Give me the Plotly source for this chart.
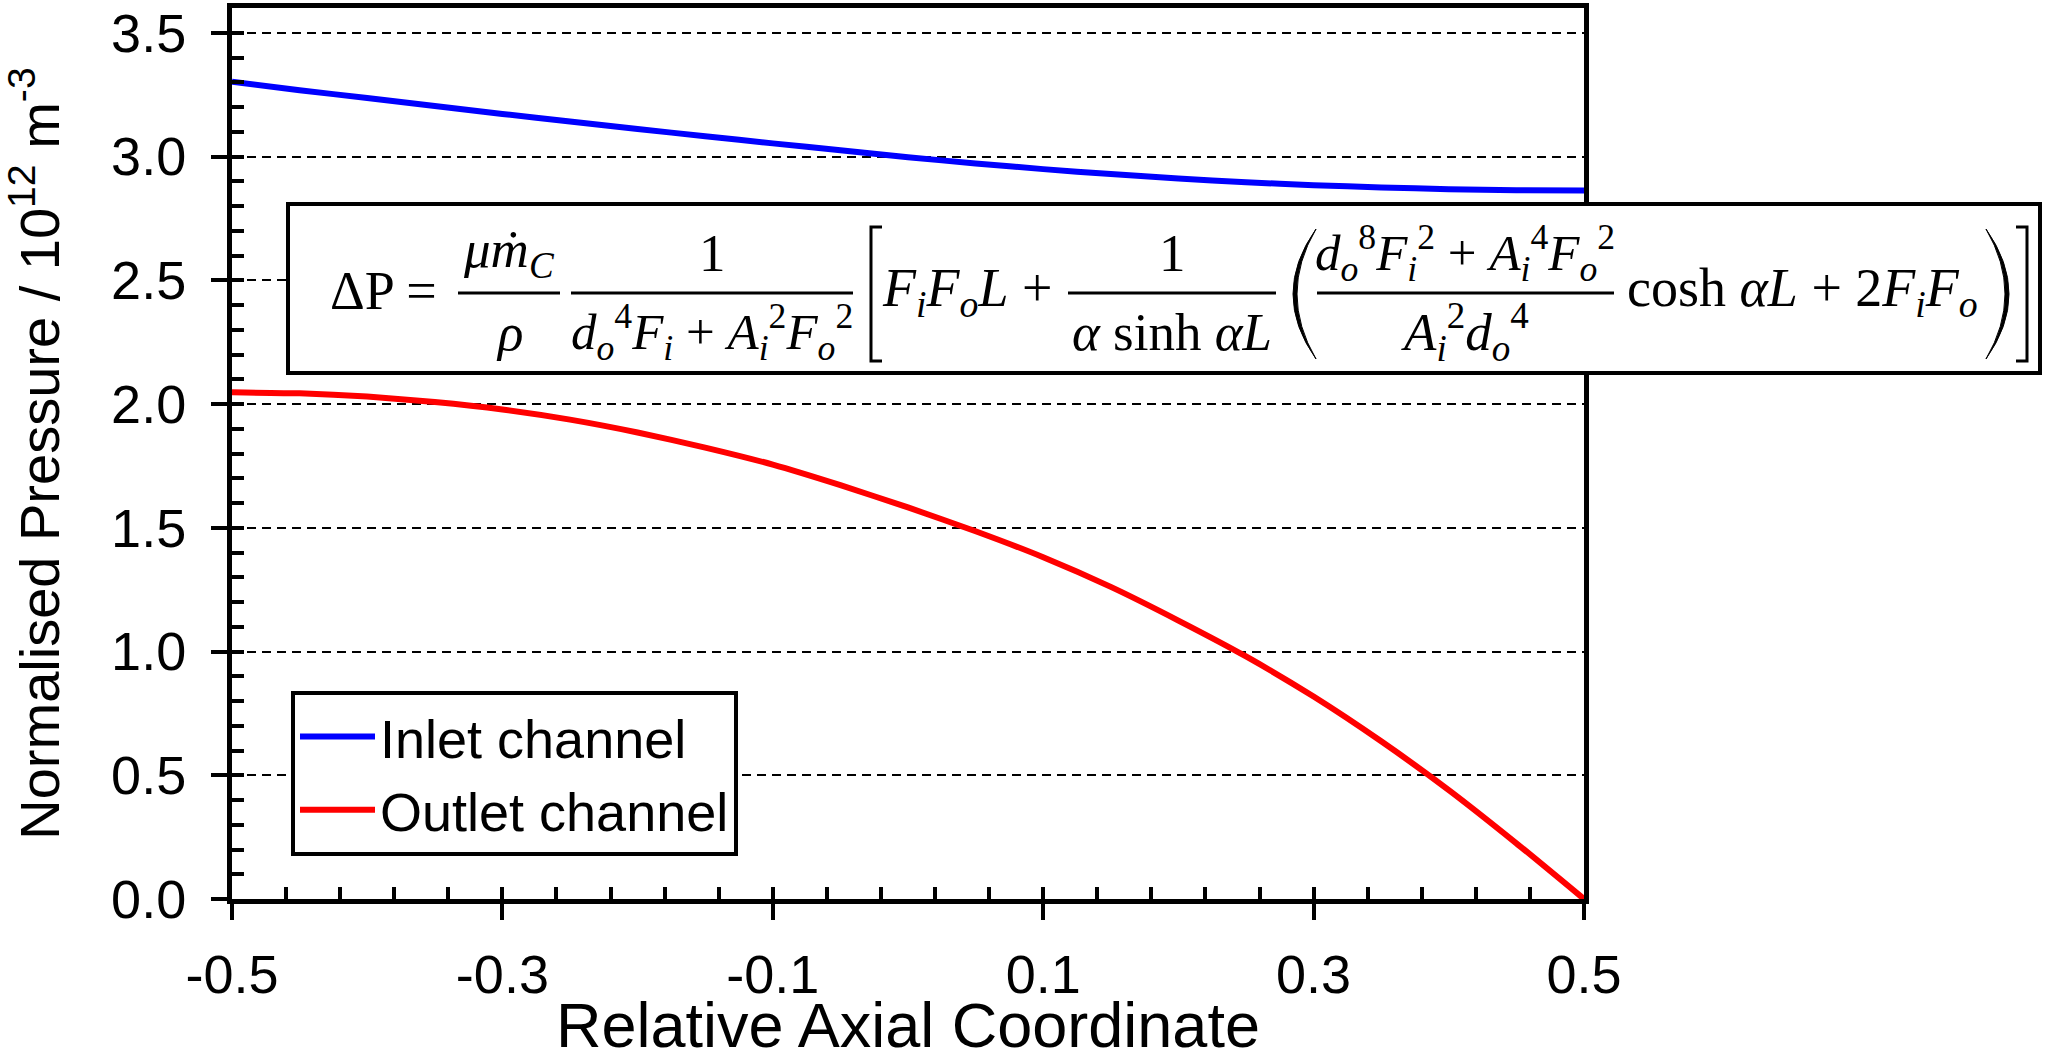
import plotly.graph_objects as go

# ---------------- data ----------------
x_coord = [-0.5, -0.45, -0.4, -0.35, -0.3, -0.25, -0.2, -0.15, -0.1, -0.05, 0.0,
           0.05, 0.1, 0.15, 0.2, 0.25, 0.3, 0.35, 0.4, 0.45, 0.5]
inlet_pressure = [3.302, 3.268, 3.236, 3.204, 3.172, 3.141, 3.111, 3.082, 3.053, 3.025, 2.997,
                  2.972, 2.949, 2.929, 2.911, 2.896, 2.884, 2.875, 2.868, 2.864, 2.863]
outlet_pressure = [2.047, 2.043, 2.030, 2.008, 1.978, 1.937, 1.885, 1.824, 1.755, 1.672, 1.582,
                   1.486, 1.381, 1.261, 1.125, 0.980, 0.818, 0.637, 0.440, 0.225, 0.0]
series_names = ["Inlet channel", "Outlet channel"]
x_ticks = [-0.5, -0.3, -0.1, 0.1, 0.3, 0.5]
x_tick_labels = ["-0.5", "-0.3", "-0.1", "0.1", "0.3", "0.5"]
y_ticks = [0.0, 0.5, 1.0, 1.5, 2.0, 2.5, 3.0, 3.5]
y_tick_labels = ["0.0", "0.5", "1.0", "1.5", "2.0", "2.5", "3.0", "3.5"]

# ---------------- geometry ----------------
W, H = 2071, 1060
ML, MR, MT, MB = 232, 487, 8, 161
PW, PH = W - ML - MR, H - MT - MB


def px(xp):
    return (xp - ML) / PW


def py(yp):
    return (H - MB - yp) / PH


def path(points, close=False):
    s = "M " + " L ".join(f"{px(a):.5f},{py(b):.5f}" for a, b in points)
    return s + (" Z" if close else "")


def qpath(p0, c, p1, c2):
    # filled crescent: outer curve p0->p1 via c, back p1->p0 via c2
    return (f"M {px(p0[0]):.5f},{py(p0[1]):.5f} "
            f"Q {px(c[0]):.5f},{py(c[1]):.5f} {px(p1[0]):.5f},{py(p1[1]):.5f} "
            f"Q {px(c2[0]):.5f},{py(c2[1]):.5f} {px(p0[0]):.5f},{py(p0[1]):.5f} Z")


FONT = "Arial, Liberation Sans, sans-serif"
MATH = "Liberation Serif, Times New Roman, serif"

fig = go.Figure()
fig.add_trace(go.Scatter(x=x_coord, y=inlet_pressure, mode="lines", name=series_names[0],
                         line=dict(color="#0000FF", width=6, shape="spline", smoothing=0.5)))
fig.add_trace(go.Scatter(x=x_coord, y=outlet_pressure, mode="lines", name=series_names[1],
                         line=dict(color="#FF0000", width=6, shape="spline", smoothing=0.5)))
# helper trace for the overlay axes carrying the inside ticks
fig.add_trace(go.Scatter(x=[], y=[], xaxis="x2", yaxis="y2", showlegend=False, hoverinfo="skip"))

axis_common = dict(showline=True, linecolor="black", linewidth=5, mirror=True,
                   zeroline=False, automargin=False,
                   tickfont=dict(size=54, family=FONT, color="black"),
                   ticks="outside", ticklen=16, tickwidth=4, tickcolor="black")

fig.update_layout(
    width=W, height=H,
    margin=dict(l=ML, r=MR, t=MT, b=MB, pad=0, autoexpand=False),
    paper_bgcolor="white", plot_bgcolor="white",
    font=dict(family=FONT, color="black"),
    xaxis=dict(range=[-0.5, 0.5], tickvals=x_ticks, ticktext=x_tick_labels,
               showgrid=False, ticklabelstandoff=8,
               title=dict(text="Relative Axial Coordinate", font=dict(size=63, family=FONT),
                          standoff=15),
               **axis_common),
    yaxis=dict(range=[0, 3.6], tickvals=y_ticks, ticktext=y_tick_labels,
               showgrid=True, gridcolor="black", gridwidth=2, griddash="9px,6px",
               ticklabelstandoff=14,
               title=dict(text="Normalised Pressure / 10<sup>12</sup> m<sup>-3</sup>",
                          font=dict(size=56, family=FONT), standoff=35),
               **axis_common),
    xaxis2=dict(range=[-0.5, 0.5], overlaying="x", anchor="y2", side="bottom",
                showline=False, showgrid=False, zeroline=False, showticklabels=False,
                ticks="inside", dtick=0.04, tick0=-0.5, ticklen=12, tickwidth=4,
                tickcolor="black", automargin=False),
    yaxis2=dict(range=[0, 3.6], overlaying="y", anchor="x2", side="left",
                showline=False, showgrid=False, zeroline=False, showticklabels=False,
                ticks="inside", dtick=0.1, tick0=0, ticklen=12, tickwidth=4,
                tickcolor="black", automargin=False),
    legend=dict(x=px(291), y=py(691), xanchor="left", yanchor="top",
                bgcolor="white", bordercolor="black", borderwidth=4,
                font=dict(size=54, family=FONT, color="black"),
                tracegroupgap=0, itemwidth=75),
    showlegend=True,
)

# ---------------- equation box ----------------
shapes = []
shapes.append(dict(type="rect", xref="paper", yref="paper", layer="above",
                   x0=px(288), x1=px(2040), y0=py(373), y1=py(204),
                   line=dict(color="black", width=4), fillcolor="white"))
BAR_Y = 293
for x0, x1 in [(458, 560), (571, 853), (1068, 1276), (1317, 1614)]:
    shapes.append(dict(type="line", xref="paper", yref="paper", layer="above",
                       x0=px(x0), x1=px(x1), y0=py(BAR_Y), y1=py(BAR_Y),
                       line=dict(color="black", width=3)))
# brackets
shapes.append(dict(type="path", xref="paper", yref="paper", layer="above",
                   path=path([(882, 227), (871, 227), (871, 361), (882, 361)]),
                   line=dict(color="black", width=3)))
shapes.append(dict(type="path", xref="paper", yref="paper", layer="above",
                   path=path([(2016, 227), (2027, 227), (2027, 361), (2016, 361)]),
                   line=dict(color="black", width=3)))
# parentheses
shapes.append(dict(type="path", xref="paper", yref="paper", layer="above",
                   path=qpath((1316, 229), (1270, 294), (1316, 359), (1278, 294)),
                   line=dict(color="black", width=1), fillcolor="black"))
shapes.append(dict(type="path", xref="paper", yref="paper", layer="above",
                   path=qpath((1986, 229), (2032, 294), (1986, 359), (2024, 294)),
                   line=dict(color="black", width=1), fillcolor="black"))
fig.update_layout(shapes=shapes)


def sub(t):
    return f"<sub>{t}</sub>"


def sup(t):
    return f"<sup>{t}</sup>"


def it(t):
    return f"<i>{t}</i>"


MAIN_Y, NUM_Y, DEN_Y = 291, 253, 332
eq_parts = [
    ("ΔP =", 383, MAIN_Y, 54),
    (it("μṁ") + sub(it("C")), 509, NUM_Y, 53),
    (it("ρ"), 509, DEN_Y, 53),
    ("1", 712, NUM_Y, 53),
    (it("d") + sub(it("o")) + sup("4") + it("F") + sub(it("i")) + " + "
     + it("A") + sub(it("i")) + sup("2") + it("F") + sub(it("o")) + sup("2"), 712, DEN_Y, 51),
    (it("F") + sub(it("i")) + it("F") + sub(it("o")) + it("L") + " +", 967, MAIN_Y, 54),
    ("1", 1172, NUM_Y, 53),
    (it("α") + " sinh " + it("αL"), 1172, DEN_Y, 53),
    (it("d") + sub(it("o")) + sup("8") + it("F") + sub(it("i")) + sup("2") + " + "
     + it("A") + sub(it("i")) + sup("4") + it("F") + sub(it("o")) + sup("2"), 1465, NUM_Y, 51),
    (it("A") + sub(it("i")) + sup("2") + it("d") + sub(it("o")) + sup("4"), 1465, DEN_Y, 53),
    ("cosh " + it("αL") + " + 2" + it("F") + sub(it("i")) + it("F") + sub(it("o")), 1802, MAIN_Y, 54),
]
for text, xc, yc, fs in eq_parts:
    fig.add_annotation(text=text, xref="paper", yref="paper", x=px(xc), y=py(yc),
                       xanchor="center", yanchor="middle", showarrow=False,
                       font=dict(size=fs, family=MATH, color="black"))

fig.write_html("out.html")
